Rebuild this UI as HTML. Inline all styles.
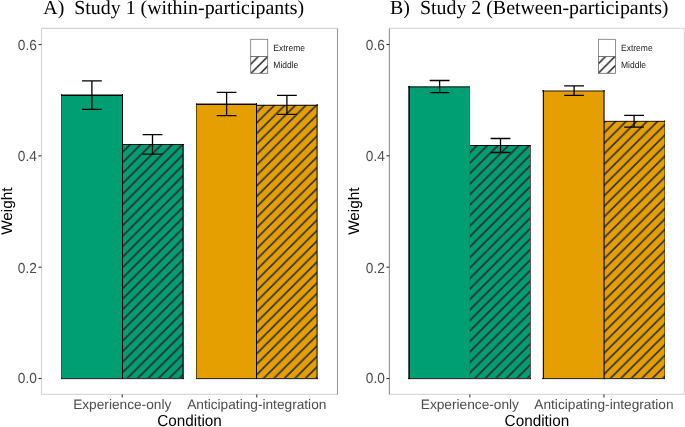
<!DOCTYPE html>
<html><head><meta charset="utf-8"><style>
html,body{margin:0;padding:0;background:#fff;}
svg{display:block;will-change:transform;text-rendering:geometricPrecision;}
.tick{font-family:"Liberation Sans",sans-serif;font-size:13.7px;fill:#4d4d4d;}
.axt{font-family:"Liberation Sans",sans-serif;font-size:15.3px;fill:#000;}
.leg{font-family:"Liberation Sans",sans-serif;font-size:8.5px;fill:#1a1a1a;}
.ttl{font-family:"Liberation Serif",serif;font-size:19.9px;fill:#000;}
</style></head><body>
<svg width="685" height="427" viewBox="0 0 685 427">
<defs>
<pattern id="p01" patternUnits="userSpaceOnUse" width="10.49" height="10.49" x="2.0" y="0"><rect width="10.49" height="10.49" fill="#009E73"/><path d="M-2 12.49L12.49 -2M-2 2L2 -2M8.49 12.49L12.49 8.49" stroke="#33262c" stroke-width="1.6"/></pattern>
<pattern id="p03" patternUnits="userSpaceOnUse" width="10.49" height="10.49" x="2.0" y="0"><rect width="10.49" height="10.49" fill="#E69F00"/><path d="M-2 12.49L12.49 -2M-2 2L2 -2M8.49 12.49L12.49 8.49" stroke="#2a2f3d" stroke-width="1.6"/></pattern>
<pattern id="pl0" patternUnits="userSpaceOnUse" width="9.43" height="9.43" x="3.7" y="0"><rect width="9.43" height="9.43" fill="#fff"/><path d="M-2 11.43L11.43 -2M-2 2L2 -2M7.43 11.43L11.43 7.43" stroke="#1a1a1a" stroke-width="1.5"/></pattern>
<pattern id="p11" patternUnits="userSpaceOnUse" width="10.49" height="10.49" x="3.5" y="0"><rect width="10.49" height="10.49" fill="#009E73"/><path d="M-2 12.49L12.49 -2M-2 2L2 -2M8.49 12.49L12.49 8.49" stroke="#33262c" stroke-width="1.6"/></pattern>
<pattern id="p13" patternUnits="userSpaceOnUse" width="10.49" height="10.49" x="2.7" y="0"><rect width="10.49" height="10.49" fill="#E69F00"/><path d="M-2 12.49L12.49 -2M-2 2L2 -2M8.49 12.49L12.49 8.49" stroke="#2a2f3d" stroke-width="1.6"/></pattern>
<pattern id="pl1" patternUnits="userSpaceOnUse" width="9.43" height="9.43" x="1.97" y="0"><rect width="9.43" height="9.43" fill="#fff"/><path d="M-2 11.43L11.43 -2M-2 2L2 -2M7.43 11.43L11.43 7.43" stroke="#1a1a1a" stroke-width="1.5"/></pattern>
</defs>
<rect width="685" height="427" fill="#fff"/>
<line x1="41.5" y1="28.4" x2="337.5" y2="28.4" stroke="#d2d2d2" stroke-width="1.1"/>
<line x1="41.5" y1="394.4" x2="337.5" y2="394.4" stroke="#d9d9d9" stroke-width="1.1"/>
<line x1="41.5" y1="28.4" x2="41.5" y2="394.4" stroke="#d2d2d2" stroke-width="1.1"/>
<line x1="337.5" y1="28.4" x2="337.5" y2="394.4" stroke="#9a9a9a" stroke-width="1.1"/>
<line x1="38.5" y1="44.5" x2="41.5" y2="44.5" stroke="#333" stroke-width="1.1"/>
<text transform="translate(36.9,49.6) scale(1,1.06)" class="tick" text-anchor="end">0.6</text>
<line x1="38.5" y1="155.83" x2="41.5" y2="155.83" stroke="#333" stroke-width="1.1"/>
<text transform="translate(36.9,160.5) scale(1,1.06)" class="tick" text-anchor="end">0.4</text>
<line x1="38.5" y1="267.17" x2="41.5" y2="267.17" stroke="#333" stroke-width="1.1"/>
<text transform="translate(36.9,272.6) scale(1,1.06)" class="tick" text-anchor="end">0.2</text>
<line x1="38.5" y1="378.5" x2="41.5" y2="378.5" stroke="#333" stroke-width="1.1"/>
<text transform="translate(36.9,382.9) scale(1,1.06)" class="tick" text-anchor="end">0.0</text>
<line x1="122.23" y1="394.4" x2="122.23" y2="397.4" stroke="#333" stroke-width="1.1"/>
<text x="122.23" y="409.4" class="tick" text-anchor="middle">Experience-only</text>
<line x1="256.77" y1="394.4" x2="256.77" y2="397.4" stroke="#333" stroke-width="1.1"/>
<text x="256.77" y="409.4" class="tick" text-anchor="middle">Anticipating-integration</text>
<text transform="translate(189.5,426.3) scale(1,1.04)" class="axt" text-anchor="middle">Condition</text>
<rect x="62" y="95" width="60" height="283" fill="#009E73"/>
<rect x="123" y="144" width="60" height="234" fill="url(#p01)"/>
<rect x="196" y="104" width="60" height="274" fill="#E69F00"/>
<rect x="257" y="105" width="60" height="273" fill="url(#p03)"/>
<rect x="61" y="94" width="62" height="1" fill="#000" fill-opacity="0.5"/>
<rect x="61" y="95" width="62" height="1" fill="#000" fill-opacity="0.95"/>
<rect x="61" y="94" width="1" height="285" fill="#000" fill-opacity="0.7"/>
<rect x="122" y="94" width="1" height="285" fill="#000" fill-opacity="1.0"/>
<rect x="61" y="378" width="62" height="1" fill="#000" fill-opacity="0.8"/>
<rect x="61" y="379" width="62" height="1" fill="#000" fill-opacity="0.12"/>
<rect x="123" y="144" width="61" height="1" fill="#000" fill-opacity="0.85"/>
<rect x="182" y="144" width="1" height="235" fill="#000" fill-opacity="0.5"/>
<rect x="183" y="144" width="1" height="235" fill="#000" fill-opacity="0.75"/>
<rect x="123" y="378" width="61" height="1" fill="#000" fill-opacity="0.8"/>
<rect x="123" y="379" width="61" height="1" fill="#000" fill-opacity="0.12"/>
<rect x="196" y="103" width="61" height="1" fill="#000" fill-opacity="0.45"/>
<rect x="196" y="104" width="61" height="1" fill="#000" fill-opacity="0.95"/>
<rect x="196" y="103" width="1" height="276" fill="#000" fill-opacity="0.55"/>
<rect x="256" y="103" width="1" height="276" fill="#000" fill-opacity="1.0"/>
<rect x="196" y="378" width="61" height="1" fill="#000" fill-opacity="0.8"/>
<rect x="196" y="379" width="61" height="1" fill="#000" fill-opacity="0.12"/>
<rect x="257" y="104" width="61" height="1" fill="#000" fill-opacity="0.25"/>
<rect x="257" y="105" width="61" height="1" fill="#000" fill-opacity="0.75"/>
<rect x="316" y="104" width="1" height="275" fill="#000" fill-opacity="0.4"/>
<rect x="317" y="104" width="1" height="275" fill="#000" fill-opacity="0.6"/>
<rect x="257" y="378" width="61" height="1" fill="#000" fill-opacity="0.8"/>
<rect x="257" y="379" width="61" height="1" fill="#000" fill-opacity="0.12"/>
<path d="M82 80.8H101.8M91.9 80.8V109.3M82 109.3H101.8" stroke="#000" stroke-width="1.3" fill="none"/>
<path d="M142.6 134.6H162.4M152.5 134.6V154.2M142.6 154.2H162.4" stroke="#000" stroke-width="1.3" fill="none"/>
<path d="M216.7 92.4H236.5M226.6 92.4V115.6M216.7 115.6H236.5" stroke="#000" stroke-width="1.3" fill="none"/>
<path d="M277 95.4H296.8M286.9 95.4V114.4M277 114.4H296.8" stroke="#000" stroke-width="1.3" fill="none"/>
<text x="43.3" y="13.7" class="ttl">A)&#160; Study 1 (within-participants)</text>
<rect x="250.7" y="39.3" width="17.0" height="17.2" fill="#fff" stroke="#777" stroke-width="0.8"/>
<rect x="250.7" y="56.5" width="17.0" height="16.8" fill="url(#pl0)" stroke="#666" stroke-width="0.8"/>
<text transform="translate(273.3,51.2) scale(1,1.08)" class="leg">Extreme</text>
<text transform="translate(273.3,68.3) scale(1,1.08)" class="leg">Middle</text>
<text transform="translate(12.3,211.2) rotate(-90)" class="axt" text-anchor="middle">Weight</text>
<line x1="389.4" y1="28.4" x2="684.4" y2="28.4" stroke="#dcdcdc" stroke-width="1.1"/>
<line x1="389.4" y1="394.4" x2="684.4" y2="394.4" stroke="#dadada" stroke-width="1.1"/>
<line x1="389.4" y1="28.4" x2="389.4" y2="394.4" stroke="#939393" stroke-width="1.1"/>
<line x1="684.4" y1="28.4" x2="684.4" y2="394.4" stroke="#d6d6d6" stroke-width="1.1"/>
<line x1="386.4" y1="44.5" x2="389.4" y2="44.5" stroke="#333" stroke-width="1.1"/>
<text transform="translate(384.8,49.6) scale(1,1.06)" class="tick" text-anchor="end">0.6</text>
<line x1="386.4" y1="155.83" x2="389.4" y2="155.83" stroke="#333" stroke-width="1.1"/>
<text transform="translate(384.8,160.5) scale(1,1.06)" class="tick" text-anchor="end">0.4</text>
<line x1="386.4" y1="267.17" x2="389.4" y2="267.17" stroke="#333" stroke-width="1.1"/>
<text transform="translate(384.8,272.6) scale(1,1.06)" class="tick" text-anchor="end">0.2</text>
<line x1="386.4" y1="378.5" x2="389.4" y2="378.5" stroke="#333" stroke-width="1.1"/>
<text transform="translate(384.8,382.9) scale(1,1.06)" class="tick" text-anchor="end">0.0</text>
<line x1="469.85" y1="394.4" x2="469.85" y2="397.4" stroke="#333" stroke-width="1.1"/>
<text x="469.85" y="409.4" class="tick" text-anchor="middle">Experience-only</text>
<line x1="603.95" y1="394.4" x2="603.95" y2="397.4" stroke="#333" stroke-width="1.1"/>
<text x="603.95" y="409.4" class="tick" text-anchor="middle">Anticipating-integration</text>
<text transform="translate(536.9,426.3) scale(1,1.04)" class="axt" text-anchor="middle">Condition</text>
<rect x="409" y="87" width="61" height="291" fill="#009E73"/>
<rect x="470" y="145" width="60" height="233" fill="url(#p11)"/>
<rect x="543" y="91" width="61" height="287" fill="#E69F00"/>
<rect x="604" y="121" width="61" height="257" fill="url(#p13)"/>
<rect x="408" y="86" width="62" height="1" fill="#000" fill-opacity="0.65"/>
<rect x="408" y="87" width="62" height="1" fill="#000" fill-opacity="0.35"/>
<rect x="408" y="86" width="1" height="293" fill="#000" fill-opacity="0.67"/>
<rect x="409" y="86" width="1" height="293" fill="#000" fill-opacity="0.85"/>
<rect x="469" y="86" width="1" height="293" fill="#000" fill-opacity="0.08"/>
<rect x="408" y="378" width="62" height="1" fill="#000" fill-opacity="0.8"/>
<rect x="408" y="379" width="62" height="1" fill="#000" fill-opacity="0.12"/>
<rect x="470" y="145" width="61" height="1" fill="#000" fill-opacity="0.9"/>
<rect x="530" y="145" width="1" height="234" fill="#000" fill-opacity="0.65"/>
<rect x="470" y="378" width="61" height="1" fill="#000" fill-opacity="0.8"/>
<rect x="470" y="379" width="61" height="1" fill="#000" fill-opacity="0.12"/>
<rect x="542" y="90" width="63" height="1" fill="#000" fill-opacity="0.47"/>
<rect x="542" y="91" width="63" height="1" fill="#000" fill-opacity="0.4"/>
<rect x="542" y="90" width="1" height="289" fill="#000" fill-opacity="0.2"/>
<rect x="543" y="90" width="1" height="289" fill="#000" fill-opacity="0.9"/>
<rect x="603" y="90" width="1" height="289" fill="#000" fill-opacity="0.5"/>
<rect x="604" y="90" width="1" height="289" fill="#000" fill-opacity="0.6"/>
<rect x="542" y="378" width="63" height="1" fill="#000" fill-opacity="0.8"/>
<rect x="542" y="379" width="63" height="1" fill="#000" fill-opacity="0.12"/>
<rect x="604" y="120" width="61" height="1" fill="#000" fill-opacity="0.15"/>
<rect x="604" y="121" width="61" height="1" fill="#000" fill-opacity="0.7"/>
<rect x="664" y="120" width="1" height="259" fill="#000" fill-opacity="0.4"/>
<rect x="604" y="378" width="61" height="1" fill="#000" fill-opacity="0.8"/>
<rect x="604" y="379" width="61" height="1" fill="#000" fill-opacity="0.12"/>
<path d="M429.7 80.5H449.5M439.6 80.5V92.6M429.7 92.6H449.5" stroke="#000" stroke-width="1.3" fill="none"/>
<path d="M490.6 138.5H510.4M500.5 138.5V152.5M490.6 152.5H510.4" stroke="#000" stroke-width="1.3" fill="none"/>
<path d="M564.2 85.8H584M574.1 85.8V95.4M564.2 95.4H584" stroke="#000" stroke-width="1.3" fill="none"/>
<path d="M624.2 115.4H644M634.1 115.4V127.2M624.2 127.2H644" stroke="#000" stroke-width="1.3" fill="none"/>
<text x="390.1" y="13.7" class="ttl">B)&#160; Study 2 (Between-participants)</text>
<rect x="598.4" y="39.3" width="17.0" height="17.2" fill="#fff" stroke="#777" stroke-width="0.8"/>
<rect x="598.4" y="56.5" width="17.0" height="16.8" fill="url(#pl1)" stroke="#666" stroke-width="0.8"/>
<text transform="translate(621,51.2) scale(1,1.08)" class="leg">Extreme</text>
<text transform="translate(621,68.3) scale(1,1.08)" class="leg">Middle</text>
<text transform="translate(359.0,211.2) rotate(-90)" class="axt" text-anchor="middle">Weight</text>
</svg>
</body></html>
